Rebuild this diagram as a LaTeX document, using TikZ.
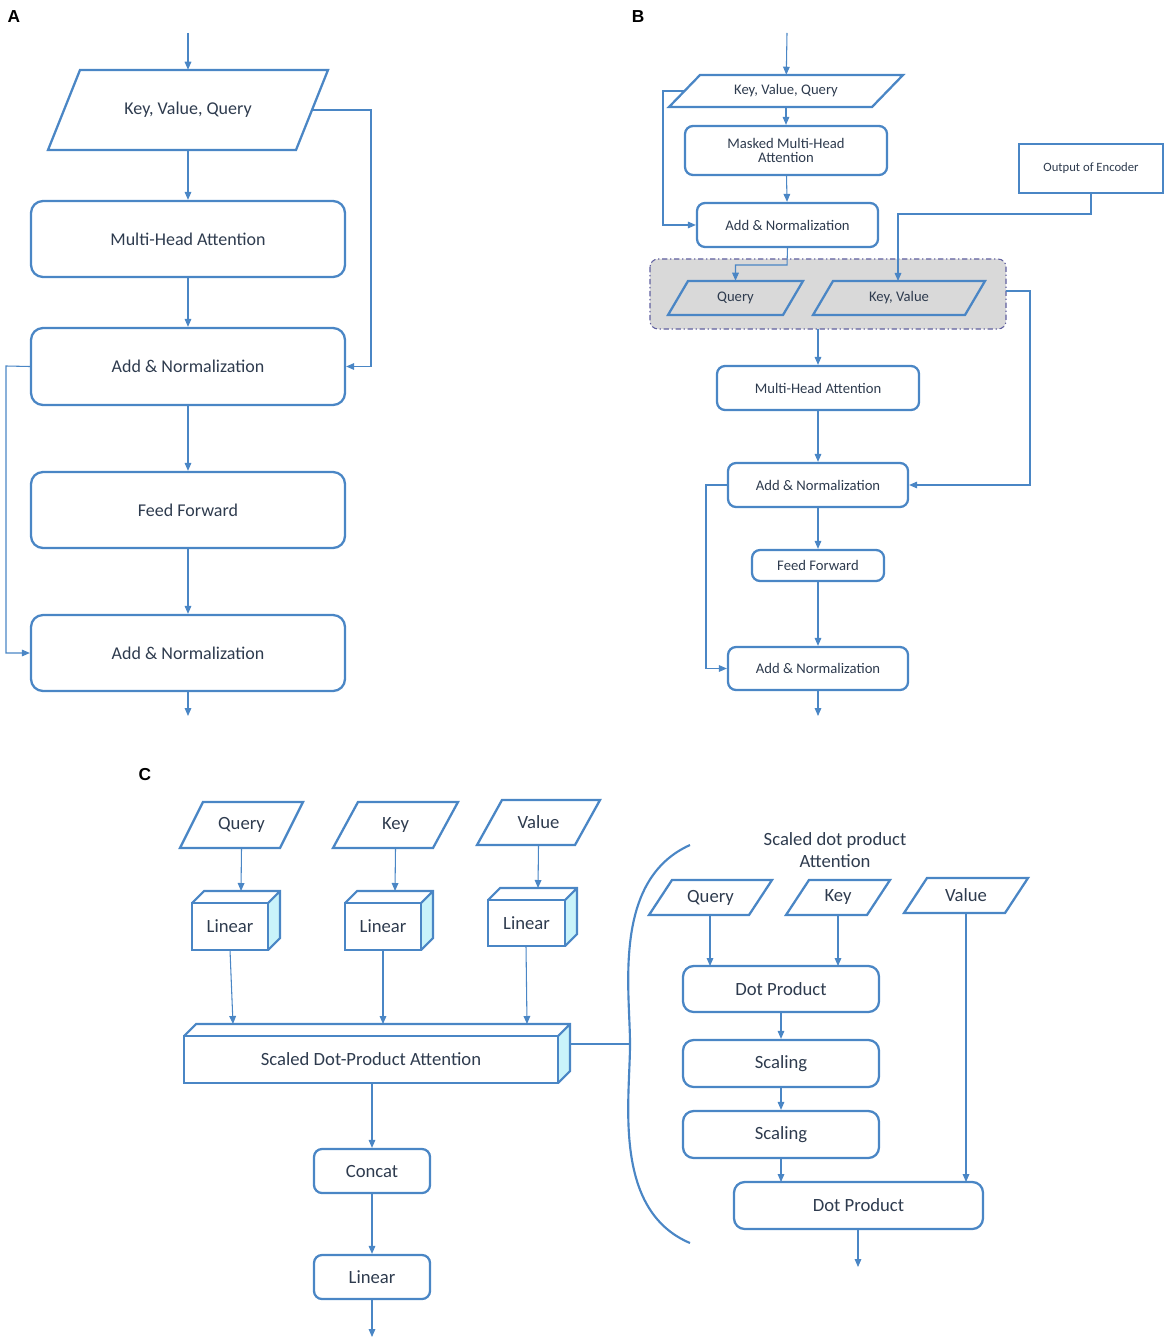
\documentclass[tikz,border=0pt]{standalone}
\usepackage{fontspec}
\setmainfont{Carlito}
\newfontfamily\lblfont{Liberation Sans}
\usetikzlibrary{arrows.meta}
\definecolor{ln}{HTML}{4A86C5}
\definecolor{tx}{HTML}{2E3B4E}
\definecolor{cy}{HTML}{C9F3FA}
\tikzset{
 bx/.style={draw=ln,line width=1.7pt,rounded corners=6pt,inner sep=0pt,text=tx,align=center},
 sq/.style={draw=ln,line width=1.3pt,inner sep=0pt,text=tx,align=center},
 nb/.style={inner sep=0pt,text=tx,align=center},
 ar/.style={draw=ln,line width=0.8pt,-{Triangle[length=6pt,width=5pt]}},
 cn/.style={draw=ln,line width=0.8pt},
 pl/.style={draw=ln,line width=1.7pt,line join=miter},
}
% box: style, name, x1,y1,x2,y2, text
\newcommand\mybox[7]{\node[#1,minimum width={(#5-#3)*0.75pt},minimum height={(#6-#4)*0.75pt}] (#2) at ({(#3+#5)/2},{(#4+#6)/2}) {#7};}
% parallelogram: name, x1(bottom-left),y1(top),x2(bottom-right... width),y2(bottom), skew, text, font
\newcommand\mypara[8]{\node[nb,font=#8,minimum width={(#4-#2+#6)*0.75pt},minimum height={(#5-#3)*0.75pt}] (#1) at ({#2+(#4-#2+#6)/2},{(#3+#5)/2}) {#7};
 \draw[pl] (#2,#5) -- (#2+#6,#3) -- (#4+#6,#3) -- (#4,#5) -- cycle;}
% cuboid: name x1 y1 x2 y2 depth text
\newcommand\mycub[7]{\fill[cy] (#4,#5) -- (#4,#3) -- (#4+#6,#3-#6) -- (#4+#6,#5-#6) -- cycle;
 \draw[pl,line width=1.6pt] (#2,#3) -- (#2+#6,#3-#6) -- (#4+#6,#3-#6) -- (#4+#6,#5-#6) -- (#4,#5) (#4,#3) -- (#4+#6,#3-#6);
 \mybox{sq,line width=1.6pt,font=\fontsize{14}{16}\selectfont}{#1}{#2}{#3}{#4}{#5}{#7}}
\begin{document}
\begin{tikzpicture}[x=0.75pt,y=-0.75pt]
\useasboundingbox (0,0) rectangle (1170,1344);
\node[font=\lblfont\bfseries\fontsize{13}{15}\selectfont] at (14,17) {A};
\node[font=\lblfont\bfseries\fontsize{13}{15}\selectfont] at (638,17) {B};
\node[font=\lblfont\bfseries\fontsize{13}{15}\selectfont] at (145,775) {C};
% ---------- A
\begin{scope}[font=\fontsize{13.5}{16}\selectfont]
\coordinate (ain) at (188,33);
\mypara{akvq}{48}{70}{296}{150}{32}{Key, Value, Query}{\fontsize{13.5}{16}\selectfont}
\mybox{bx,rounded corners=9pt}{amha}{31}{201}{345}{277}{Multi-Head Attention}
\mybox{bx,rounded corners=9pt}{aan1}{31}{328}{345}{405}{Add \& Normalization}
\mybox{bx,rounded corners=9pt}{aff}{31}{472}{345}{548}{Feed Forward}
\mybox{bx,rounded corners=9pt}{aan2}{31}{615}{345}{691}{Add \& Normalization}
\coordinate (aout) at (188,716);
\coordinate (akr) at (312,110);
\draw[ar] (ain) -- (akvq);
\draw[ar] (akvq.south) -- (amha);
\draw[ar] (amha) -- (aan1);
\draw[ar] (aan1) -- (aff);
\draw[ar] (aff) -- (aan2);
\draw[ar] (aan2) -- (aout);
\draw[ar] (akr) -- (371,110) |- (aan1.east);
\draw[ar] (aan1.west) -- (6,366) |- (aan2.west);
\end{scope}
% ---------- B
\begin{scope}[font=\fontsize{11}{13}\selectfont]
\fill[gray!30,draw=gray!75!blue,dash pattern=on 4pt off 2pt on 1pt off 2pt,line width=0.8pt,rounded corners=6pt] (650,259) rectangle (1006,329);
\coordinate (bin) at (787,33);
\mypara{bkvq}{669}{75}{872}{107}{31}{Key, Value, Query}{\fontsize{11}{13}\selectfont}
\mybox{bx}{bmmha}{685}{126}{887}{175}{Masked Multi-Head\\[-2pt]Attention}
\mybox{bx}{ban1}{697}{203}{878}{247}{Add \& Normalization}
\mypara{bq}{668}{281}{783}{315}{20}{Query}{\fontsize{11}{13}\selectfont}
\mypara{bkv}{813}{281}{965}{315}{20}{Key, Value}{\fontsize{11}{13}\selectfont}
\mybox{sq,font=\fontsize{9.5}{11}\selectfont}{boe}{1019}{144}{1163}{193}{Output of Encoder}
\coordinate (bgrp) at (818,329);
\coordinate (bgrpr) at (1006,291);
\mybox{bx}{bmha}{717}{366}{919}{410}{Multi-Head Attention}
\mybox{bx}{ban2}{728}{463}{908}{507}{Add \& Normalization}
\mybox{bx}{bff}{752}{550}{884}{581}{Feed Forward}
\mybox{bx}{ban3}{728}{647}{908}{690}{Add \& Normalization}
\coordinate (bout) at (818,716);
\coordinate (bkl) at (684,91);
\draw[ar] (bin) -- (bkvq);
\draw[ar] (bkvq.south) -- (bmmha);
\draw[ar] (bmmha) -- (ban1);
\draw[ar] (bkl) -- (663,91) |- (ban1.west);
\draw[ar] (ban1.south) -- (787,265) -| (bq.north);
\draw[ar] (boe.south) -- (1091,214) -| (898,281);
\draw[ar] (bgrp) -- (bmha);
\draw[ar] (bmha) -- (ban2);
\draw[ar] (bgrpr) -- (1030,291) |- (ban2.east);
\draw[ar] (ban2) -- (bff);
\draw[ar] (bff) -- (ban3);
\draw[ar] (ban2.west) -- (706,485) |- (ban3.west);
\draw[ar] (ban3) -- (bout);
\end{scope}
% ---------- C
\begin{scope}[font=\fontsize{14}{16}\selectfont]
\mypara{cq}{180}{802}{280}{848}{23}{Query}{\fontsize{14}{16}\selectfont}
\mypara{ck}{333}{802}{433}{848}{25}{Key}{\fontsize{14}{16}\selectfont}
\mypara{cv}{477}{800}{575}{845}{25}{Value}{\fontsize{14}{16}\selectfont}
\mycub{cl1}{192}{903}{268}{950}{12}{Linear}
\mycub{cl2}{345}{903}{421}{950}{12}{Linear}
\mycub{cl3}{488}{900}{565}{946}{12}{Linear}
\mycub{csd}{184}{1036}{558}{1083}{12}{Scaled Dot-Product Attention}
\mybox{bx}{ccat}{314}{1149}{430}{1193}{Concat}
\mybox{bx}{clin}{314}{1255}{430}{1299}{Linear}
\coordinate (cout) at (372,1337);
\draw[ar] (cq.south) -- (241,891);
\draw[ar] (ck.south) -- (395,891);
\draw[ar] (cv.south) -- (538,888);
\draw[ar] (230,950) -- (233,1024);
\draw[ar] (383,950) -- (383,1024);
\draw[ar] (526,946) -- (527,1024);
\draw[ar] (372,1083) -- (ccat);
\draw[ar] (ccat) -- (clin);
\draw[ar] (clin) -- (cout);
\coordinate (cbr) at (630,1044);
\draw[ln,line width=1.6pt] (570,1044) -- (cbr);
\draw[ln,line width=1.6pt] (690,845) .. controls (612,880) and (630,990) .. (cbr) .. controls (630,1100) and (612,1210) .. (690,1243);
\node[nb,font=\fontsize{14}{16}\selectfont] (ctitle) at (835,850) {Scaled dot product\\Attention};
\mypara{rq}{649}{880}{749}{915}{23}{Query}{\fontsize{14}{16}\selectfont}
\mypara{rk}{786}{880}{867}{915}{23}{Key}{\fontsize{14}{16}\selectfont}
\mypara{rv}{904}{878}{1005}{913}{23}{Value}{\fontsize{14}{16}\selectfont}
\mybox{bx,rounded corners=8pt}{rdp}{683}{966}{879}{1012}{Dot Product}
\mybox{bx,rounded corners=8pt}{rs1}{683}{1040}{879}{1087}{Scaling}
\mybox{bx,rounded corners=8pt}{rs2}{683}{1111}{879}{1158}{Scaling}
\mybox{bx,rounded corners=8pt}{rdp2}{734}{1182}{983}{1229}{Dot Product}
\coordinate (rout) at (858,1267);
\draw[ar] (710,915) -- (710,966);
\draw[ar] (838,915) -- (838,966);
\draw[ar] (rdp) -- (rs1);
\draw[ar] (rs1) -- (rs2);
\draw[ar] (781,1158) -- (781,1182);
\draw[ar] (966,913) -- (966,1182);
\draw[ar] (858,1229) -- (rout);
\end{scope}
\end{tikzpicture}
\end{document}
